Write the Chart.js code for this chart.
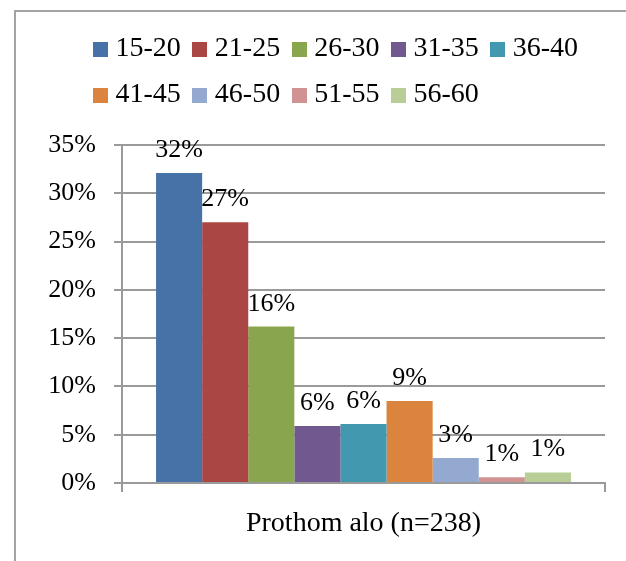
<!DOCTYPE html>
<html>
<head>
<meta charset="utf-8">
<script src="https://cdn.jsdelivr.net/npm/chart.js@4/dist/chart.umd.min.js"></script>
<style>
  html, body { margin: 0; padding: 0; background: #ffffff; }
  #wrap { position: relative; width: 626px; height: 561px; overflow: hidden; }
  #frame { position: absolute; left: 14px; top: 10px; width: 700px; height: 700px;
           border-left: 2px solid #a3a3a3; border-top: 2px solid #a3a3a3; }
  #chart { position: absolute; left: 0; top: 0; }
</style>
</head>
<body>
<div id="wrap">
  <div id="frame"></div>
  <canvas id="chart" width="626" height="561"></canvas>
</div>
<script>
// Age groups of respondents, one bar per group
const ageGroups = ['15-20', '21-25', '26-30', '31-35', '36-40', '41-45', '46-50', '51-55', '56-60'];
const shares = [32.1, 27.0, 16.2, 5.9, 6.1, 8.5, 2.6, 0.6, 1.1];
const groupColors = ['#4672a8', '#aa4643', '#89a54e', '#71588f', '#4198af', '#db843d', '#93a9cf', '#d19392', '#b9cd96'];
const categories = ['Prothom alo (n=238)'];
const yTicks = [0, 5, 10, 15, 20, 25, 30, 35];

const FONT = "'Liberation Serif', 'Times New Roman', serif";
const GRID = '#9a9a9a';
const LEGEND_INDENT = 41.5;

// square swatches for the legend
const swatches = groupColors.map(c => {
  const cv = document.createElement('canvas');
  cv.width = 15; cv.height = 15;
  const g = cv.getContext('2d');
  g.fillStyle = c; g.fillRect(0, 0, 15, 15);
  return cv;
});

// percentage labels above each bar
const barValueLabels = {
  id: 'barValueLabels',
  afterDatasetsDraw(chart) {
    const ctx = chart.ctx;
    ctx.save();
    ctx.font = '26px ' + FONT;
    ctx.fillStyle = '#000';
    ctx.textAlign = 'center';
    ctx.textBaseline = 'alphabetic';
    chart.data.datasets.forEach((ds, i) => {
      const meta = chart.getDatasetMeta(i);
      meta.data.forEach((bar, j) => {
        ctx.fillText(Math.round(ds.data[j]) + '%', bar.x, bar.y - 16);
      });
    });
    ctx.restore();
  }
};

// legend: extra room below it, and indented rows
const legendPlacement = {
  id: 'legendPlacement',
  beforeInit(chart) {
    const fit = chart.legend.fit;
    chart.legend.fit = function () {
      fit.call(this);
      this.height += 26;
    };
  },
  afterLayout(chart) {
    chart.legend.left += LEGEND_INDENT;
    chart.legend.right += LEGEND_INDENT;
  }
};

new Chart(document.getElementById('chart'), {
  type: 'bar',
  data: {
    labels: categories,
    datasets: ageGroups.map((g, i) => ({
      label: g,
      data: [shares[i]],
      backgroundColor: groupColors[i],
      borderWidth: 0
    }))
  },
  plugins: [legendPlacement, barValueLabels],
  options: {
    responsive: false,
    animation: false,
    devicePixelRatio: 1,
    layout: { padding: { left: 40, right: 21, top: 17, bottom: 0 } },
    datasets: { bar: { categoryPercentage: 0.859, barPercentage: 1 } },
    plugins: {
      tooltip: { enabled: false },
      legend: {
        position: 'top',
        align: 'start',
        labels: {
          font: { family: FONT, size: 28 },
          color: '#000',
          usePointStyle: true,
          pointStyleWidth: 2,
          padding: 18,
          generateLabels(chart) {
            return Chart.defaults.plugins.legend.labels.generateLabels(chart).map(item => {
              item.pointStyle = swatches[item.datasetIndex];
              return item;
            });
          }
        }
      }
    },
    scales: {
      x: {
        afterFit(s) { s.height = 78; },
        grid: { display: true, drawOnChartArea: false, drawTicks: true, tickLength: 9, color: GRID, lineWidth: 2, offset: true },
        border: { display: true, color: GRID, width: 2 },
        ticks: { font: { family: FONT, size: 28 }, color: '#000', padding: 15 }
      },
      y: {
        min: 0,
        max: 35,
        afterFit(s) { s.width = 82; },
        afterBuildTicks(s) { s.ticks = yTicks.map(v => ({ value: v })); },
        grid: { color: GRID, lineWidth: 2, tickLength: 8 },
        border: { display: true, color: GRID, width: 2 },
        ticks: {
          font: { family: FONT, size: 26 },
          color: '#000',
          padding: 18,
          callback: v => v + '%'
        }
      }
    }
  }
});
</script>
</body>
</html>
